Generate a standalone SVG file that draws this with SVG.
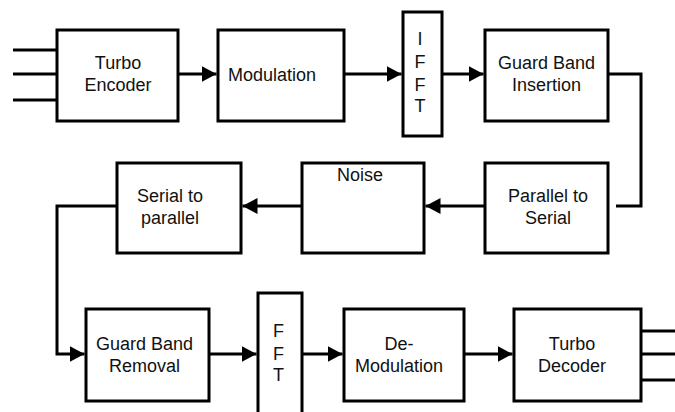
<svg xmlns="http://www.w3.org/2000/svg" width="675" height="412" viewBox="0 0 675 412">
  <style>
    .box { fill: #ffffff; stroke: #000000; stroke-width: 3; }
    .wire { fill: none; stroke: #000000; stroke-width: 3; }
    .lbl { font-family: "Liberation Sans", Arial, sans-serif; font-size: 18px; fill: #111111; }
    .mid { text-anchor: middle; }
  </style>
  <defs>
    <marker id="arrow" markerUnits="userSpaceOnUse" markerWidth="16" markerHeight="16" refX="15" refY="8" orient="auto">
      <path d="M0,0 L15,8 L0,16 z" fill="#000000"/>
    </marker>
  </defs>

  <rect width="675" height="412" fill="#ffffff"/>

  <!-- connectors -->
  <g id="connectors">
    <!-- input / output bundles -->
    <path class="wire" d="M13,50 H57 M13,74 H57 M13,100 H57"/>
    <path class="wire" d="M641,331 H675 M641,354 H675 M641,380 H675"/>
    <!-- transmitter chain -->
    <line class="wire" x1="178" y1="74" x2="216.5" y2="74" marker-end="url(#arrow)"/>
    <line class="wire" x1="344" y1="74" x2="401.5" y2="74" marker-end="url(#arrow)"/>
    <line class="wire" x1="442" y1="74" x2="483.5" y2="74" marker-end="url(#arrow)"/>
    <path class="wire" d="M608,74 H641 V206 H616"/>
    <!-- channel -->
    <line class="wire" x1="485" y1="206" x2="425.5" y2="206" marker-end="url(#arrow)"/>
    <line class="wire" x1="302" y1="206" x2="242.5" y2="206" marker-end="url(#arrow)"/>
    <path class="wire" d="M117,206 H57 V354 H84.5" marker-end="url(#arrow)"/>
    <!-- receiver chain -->
    <line class="wire" x1="209" y1="354" x2="256.5" y2="354" marker-end="url(#arrow)"/>
    <line class="wire" x1="302" y1="354" x2="342.5" y2="354" marker-end="url(#arrow)"/>
    <line class="wire" x1="464" y1="354" x2="512.5" y2="354" marker-end="url(#arrow)"/>
  </g>

  <g id="turbo-encoder">
    <rect class="box" x="57" y="30" width="121" height="91"/>
    <text class="lbl mid" x="118" y="68.5">Turbo</text>
    <text class="lbl mid" x="118" y="91">Encoder</text>
  </g>

  <g id="modulation">
    <rect class="box" x="218" y="30" width="126" height="91"/>
    <text class="lbl" x="228" y="80.5">Modulation</text>
  </g>

  <g id="ifft">
    <rect class="box" x="403" y="12" width="39" height="124"/>
    <text class="lbl mid" x="420" y="45">I</text>
    <text class="lbl mid" x="420" y="68">F</text>
    <text class="lbl mid" x="420" y="91">F</text>
    <text class="lbl mid" x="420" y="112">T</text>
  </g>

  <g id="guard-band-insertion">
    <rect class="box" x="485" y="30" width="123" height="91"/>
    <text class="lbl mid" x="546.5" y="68.5">Guard Band</text>
    <text class="lbl mid" x="546.5" y="91">Insertion</text>
  </g>

  <g id="parallel-to-serial">
    <rect class="box" x="485" y="163" width="123" height="90"/>
    <text class="lbl mid" x="548" y="202">Parallel to</text>
    <text class="lbl mid" x="548" y="224">Serial</text>
  </g>

  <g id="noise">
    <rect class="box" x="302" y="163" width="122" height="90"/>
    <text class="lbl" x="337" y="181">Noise</text>
  </g>

  <g id="serial-to-parallel">
    <rect class="box" x="117" y="163" width="124" height="90"/>
    <text class="lbl mid" x="170" y="202">Serial to</text>
    <text class="lbl mid" x="170" y="224">parallel</text>
  </g>

  <g id="guard-band-removal">
    <rect class="box" x="86" y="309" width="123" height="92"/>
    <text class="lbl mid" x="144.5" y="349.5">Guard Band</text>
    <text class="lbl mid" x="144.5" y="371.5">Removal</text>
  </g>

  <g id="fft">
    <rect class="box" x="258" y="293" width="44" height="130"/>
    <text class="lbl mid" x="278.5" y="337">F</text>
    <text class="lbl mid" x="278.5" y="359.5">F</text>
    <text class="lbl mid" x="278.5" y="381">T</text>
  </g>

  <g id="demodulation">
    <rect class="box" x="344" y="309" width="120" height="92"/>
    <text class="lbl mid" x="399" y="349.5">De-</text>
    <text class="lbl mid" x="399" y="371.5">Modulation</text>
  </g>

  <g id="turbo-decoder">
    <rect class="box" x="514" y="309" width="127" height="92"/>
    <text class="lbl mid" x="572" y="349.5">Turbo</text>
    <text class="lbl mid" x="572" y="371.5">Decoder</text>
  </g>
</svg>
